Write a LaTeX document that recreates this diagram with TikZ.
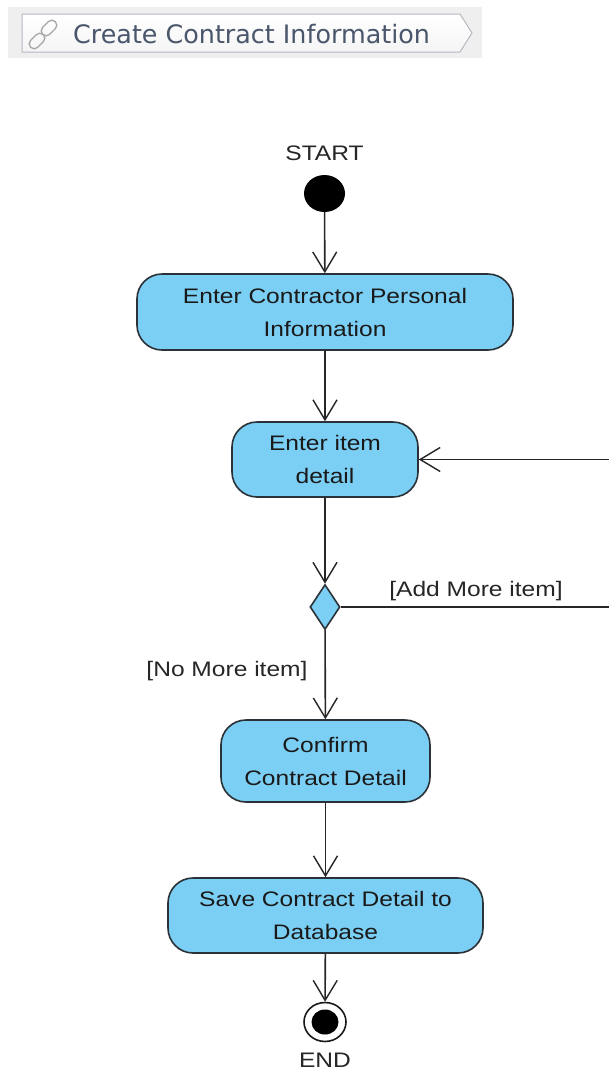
\documentclass[tikz,border=0pt]{standalone}
\usepackage{fontspec}
\usetikzlibrary{arrows.meta,shapes.geometric}
\newfontfamily\diag[FakeStretch=1.17]{Liberation Sans}
\newfontfamily\hdrfont{DejaVu Sans}
\definecolor{boxfill}{HTML}{7CCFF4}
\definecolor{boxline}{HTML}{2A3238}
\definecolor{hdrtext}{HTML}{4A566C}
\definecolor{hdrline}{HTML}{B4B8C0}
\definecolor{hdrbg}{HTML}{EFEFEF}
\tikzset{
  act/.style={draw=boxline, fill=boxfill, line width=1.6pt, rounded corners=25pt,
    inner sep=0pt, align=center, text=black!90,
    font=\diag\fontsize{21}{33}\selectfont},
  dec/.style={diamond, draw=boxline, fill=boxfill, line width=1.6pt, inner sep=0pt,
    minimum width=30pt, minimum height=45pt},
  lbl/.style={font=\diag\fontsize{21}{25}\selectfont, text=black!85, inner sep=0pt},
  arr/.style={line width=1.6pt, draw=black!85, -{Straight Barb[length=20pt,width=24pt,line width=1.4pt]}},
  flow/.style={line width=1.6pt, draw=black!85},
}
\begin{document}
\begin{tikzpicture}[x=1pt,y=-1pt]
\clip (0,0) rectangle (609,1072);
\fill[white] (0,0) rectangle (609,1072);
% header
\fill[hdrbg] (8,7) rectangle (482,58);
\shade[top color=white, bottom color=black!4, draw=hdrline, line width=1pt]
  (22,14) -- (460,14) -- (472,33) -- (460,52) -- (22,52) -- cycle;
\begin{scope}[draw=black!35, line width=1.3pt]
  \draw[rounded corners=5pt, rotate around={45:(37,41)}] (28,36) rectangle (46,46);
  \draw[rounded corners=5pt, rotate around={45:(49,28)}] (40,23) rectangle (58,33);
\end{scope}
\node[anchor=west, inner sep=0pt, text=hdrtext, font=\hdrfont\fontsize{25.4}{30}\selectfont] (hdr) at (73,34) {Create Contract Information};
% start
\node[lbl] (startlbl) at (324.5,153) {START};
\node[ellipse, fill=black, minimum width=41pt, minimum height=37pt, inner sep=0pt] (start) at (324.5,193.5) {};
% actions
\node[act, minimum width=376pt, minimum height=76pt] (b1) at (325,312) {Enter Contractor Personal\\Information};
\node[act, minimum width=186pt, minimum height=75pt] (b2) at (325,459.5) {Enter item\\detail};
\node[dec] (d) at (325,607) {};
\node[act, minimum width=209pt, minimum height=82pt] (b3) at (325.5,761) {Confirm\\Contract Detail};
\node[act, minimum width=315pt, minimum height=75pt] (b4) at (325.5,915.5) {Save Contract Detail to\\Database};
% end
\node[ellipse, draw=black!90, fill=white, line width=1.6pt, minimum width=42pt, minimum height=39pt, inner sep=0pt] (end) at (325,1022) {};
\node[ellipse, fill=black, minimum width=27pt, minimum height=25pt, inner sep=0pt] (endin) at (325,1022) {};
\node[lbl] (endlbl) at (325,1060) {END};
% labels
\node[lbl] (addlbl) at (476,591) {[Add More item]};
\node[lbl] (nolbl) at (227,671) {[No More item]};
% connectors
\coordinate (loop) at (640,607);
\draw[arr] (start) -- (b1);
\draw[arr] (b1) -- (b2);
\draw[arr] (b2) -- (d);
\draw[arr] (d) -- (b3);
\draw[arr] (b3) -- (b4);
\draw[arr] (b4) -- (end);
\draw[arr] (d.east) -- (loop) |- (b2.east);
\end{tikzpicture}
\end{document}
